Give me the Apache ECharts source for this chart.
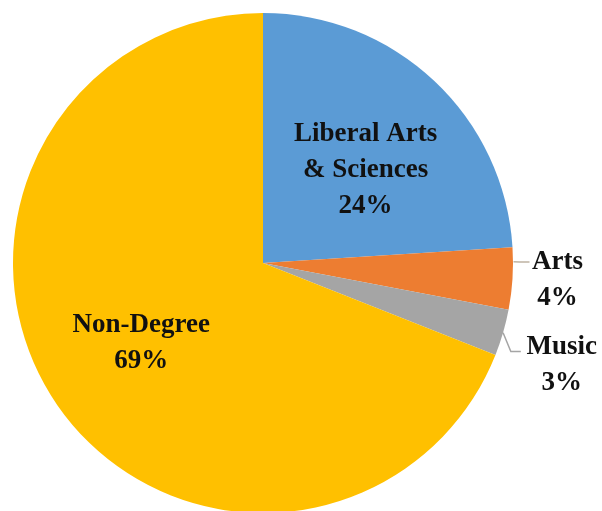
<!DOCTYPE html>
<html>
<head>
<meta charset="utf-8">
<script src="https://cdn.jsdelivr.net/npm/echarts@6/dist/echarts.min.js"></script>
<style>
  html, body { margin: 0; padding: 0; background: #fff; }
  #main { width: 602px; height: 511px; }
</style>
</head>
<body>
<div id="main"></div>
<script>
var categories = ['Liberal Arts\n& Sciences', 'Arts', 'Music', 'Non-Degree'];
var values = [24, 4, 3, 69];
var colors = ['#5B9BD5', '#ED7D31', '#A5A5A5', '#FFC000'];
var insideLabel = [true, false, false, true];

var chartDom = document.getElementById('main');
var myChart = echarts.init(chartDom);
var font = 'Liberation Serif';

var data = categories.map(function (name, i) {
    var item = {
        name: name,
        value: values[i],
        itemStyle: { color: colors[i] }
    };
    if (insideLabel[i]) {
        item.label = { position: 'inside' };
        item.labelLine = { show: false };
    } else {
        item.label = {
            position: 'outside',
            padding: [36, 0, 0, 0],
            formatter: function (p) {
                return '{c|' + p.name + '}\n{c|' + p.value + '%}';
            },
            rich: {
                c: {
                    width: 76, align: 'center', fontFamily: font, fontWeight: 'bold',
                    fontSize: 27, lineHeight: 36, color: '#111'
                }
            }
        };
        item.labelLine = { show: true, length: 6, length2: 10, lineStyle: { color: i == 1 ? '#bfb3a2' : '#a5a5a5', width: 1.5 } };
    }
    return item;
});

// shift leader line points along with the moved labels
function shiftPts(pts, from, dx, dy) {
    if (!pts) return undefined;
    return pts.map(function (p, k) {
        return k < from ? [p[0], p[1]] : [p[0] + dx, p[1] + dy];
    });
}

var option = {
    animation: false,
    series: [{
        type: 'pie',
        center: [263, 263],
        radius: [0, 250],
        startAngle: 90,
        clockwise: true,
        avoidLabelOverlap: false,
        data: data,
        label: {
            show: true,
            formatter: '{b}\n{c}%',
            fontFamily: font,
            fontWeight: 'bold',
            fontSize: 27,
            lineHeight: 36,
            color: '#111',
            align: 'center'
        },
        labelLayout: function (p) {
            if (p.dataIndex === 0) return { dx: 15, dy: 0 };
            if (p.dataIndex === 1) return { dx: -14, dy: -17, labelLinePoints: shiftPts(p.labelLinePoints, 0, 1, -17) };
            if (p.dataIndex === 2) return { dx: 0, dy: 13, labelLinePoints: shiftPts(p.labelLinePoints, 1, 2, 17) };
            if (p.dataIndex === 3) return { dx: -16, dy: 8 };
            return {};
        }
    }]
};
myChart.setOption(option);
</script>
</body>
</html>
